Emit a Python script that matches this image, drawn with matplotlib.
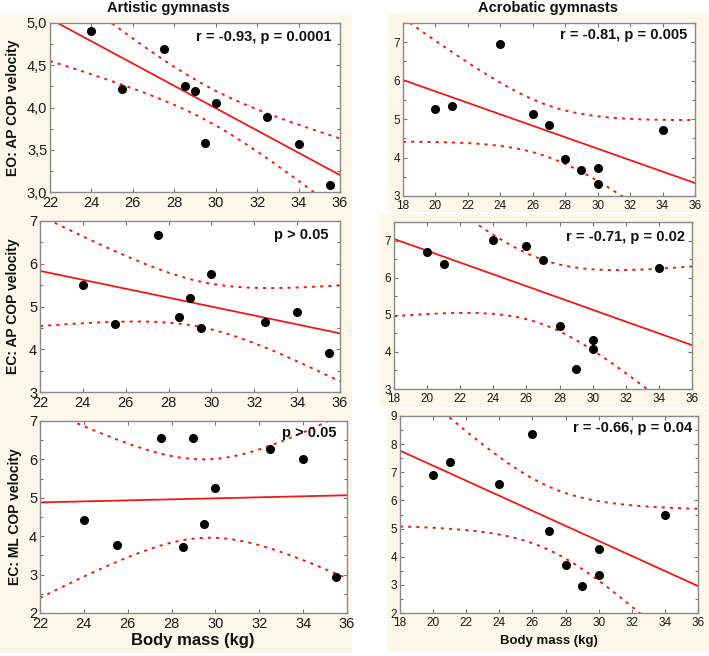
import numpy as np
import matplotlib
matplotlib.use("Agg")
import matplotlib.pyplot as plt
from matplotlib.patches import Rectangle
from matplotlib.ticker import MultipleLocator

# ---------------- data ----------------
art_mass = [24, 25.5, 27.5, 28.5, 29, 29.5, 30, 32.5, 34, 35.5]
art_eo_ap = [4.91, 4.22, 4.69, 4.26, 4.20, 3.58, 4.05, 3.89, 3.57, 3.08]
art_ec_ap = [5.51, 4.59, 6.68, 4.75, 5.20, 4.49, 5.75, 4.64, 4.88, 3.91]
art_ec_ml = [4.42, 3.78, 6.56, 3.72, 6.55, 4.31, 5.26, 6.27, 6.00, 2.94]

acro_mass = [20, 21, 24, 26, 27, 28, 29, 30, 30, 34]
acro_eo_ap = [5.27, 5.35, 6.95, 5.13, 4.84, 3.96, 3.68, 3.73, 3.31, 4.71]
acro_ec_ap = [6.69, 6.38, 7.01, 6.84, 6.47, 4.70, 3.54, 4.31, 4.07, 6.27]
acro_ec_ml = [6.92, 7.38, 6.57, 8.37, 4.90, 3.72, 2.95, 4.27, 3.36, 5.47]

col_titles = ["Artistic gymnasts", "Acrobatic gymnasts"]
row_labels = ["EO: AP COP velocity", "EC: AP COP velocity", "EC: ML COP velocity"]
stats_text = [["r = -0.93, p = 0.0001", "r = -0.81, p = 0.005"],
              ["p > 0.05", "r = -0.71, p = 0.02"],
              ["p > 0.05", "r = -0.66, p = 0.04"]]
xlabel = "Body mass (kg)"

T_CRIT = 2.306  # t(0.975, df=8)

# ---------------- layout (pixels) ----------------
W, H = 709, 656
fig = plt.figure(figsize=(W / 100, H / 100), dpi=100)
fig.patch.set_facecolor("white")
CREAM = "#fcf7e9"
RED = "#f01818"
FONT = "Liberation Sans"

def fx(px):
    return px / W

def fy(py):
    return 1 - py / H

# cream backgrounds
for (l, t, r, b) in [(0, 15, 352, 653), (388, 13, 709, 212), (380, 214, 709, 407), (387, 409, 709, 652)]:
    fig.add_artist(Rectangle((fx(l), fy(b)), fx(r - l), (b - t) / H,
                             transform=fig.transFigure, facecolor=CREAM,
                             edgecolor="none", zorder=-10))

boxes = [[(50, 23, 340, 192), (403, 23, 695, 196)],
         [(40, 221, 340, 392), (394, 222, 692, 389)],
         [(40, 421, 347, 613), (400, 416, 698, 613)]]

data = [[(art_mass, art_eo_ap), (acro_mass, acro_eo_ap)],
        [(art_mass, art_ec_ap), (acro_mass, acro_ec_ap)],
        [(art_mass, art_ec_ml), (acro_mass, acro_ec_ml)]]

ylims = [[(3.0, 5.0), (3, 7.5)], [(3, 7), (3, 7.5)], [(2, 7), (2, 9)]]
yticks = [[[3.0, 3.5, 4.0, 4.5, 5.0], [3, 4, 5, 6, 7]],
          [[3, 4, 5, 6, 7], [3, 4, 5, 6, 7]],
          [[2, 3, 4, 5, 6, 7], [2, 3, 4, 5, 6, 7, 8, 9]]]
xlims = [(22, 36), (18, 36)]

# stats text anchor (right edge px, center y px)
stat_pos = [[(332, 37), (687, 35)], [(328, 235), (685, 237)], [(337, 433), (692, 428)]]

for r in range(3):
    for c in range(2):
        l, t, rr, b = boxes[r][c]
        ax = fig.add_axes([fx(l), fy(b), fx(rr - l), (b - t) / H])
        ax.set_facecolor("white")
        x = np.array(data[r][c][0], dtype=float)
        y = np.array(data[r][c][1], dtype=float)
        n = len(x)
        slope, icpt = np.polyfit(x, y, 1)
        xs = np.linspace(xlims[c][0], xlims[c][1], 200)
        fit = icpt + slope * xs
        resid = y - (icpt + slope * x)
        s = np.sqrt(np.sum(resid ** 2) / (n - 2))
        sxx = np.sum((x - x.mean()) ** 2)
        half = T_CRIT * s * np.sqrt(1 / n + (xs - x.mean()) ** 2 / sxx)
        ax.plot(xs, fit, color=RED, lw=1.3, zorder=2)
        ax.plot(xs, fit + half, color=RED, lw=1.4, ls=(0, (1.6, 2.6)), zorder=2)
        ax.plot(xs, fit - half, color=RED, lw=1.4, ls=(0, (1.6, 2.6)), zorder=2)
        ax.plot(x, y, "o", color="black", ms=5.5, zorder=3, clip_on=False)

        ax.set_xlim(*xlims[c])
        ax.set_ylim(*ylims[r][c])
        ax.set_xticks(np.arange(xlims[c][0], xlims[c][1] + 0.1, 2))
        yt = yticks[r][c]
        ax.set_yticks(yt)
        ax.yaxis.set_minor_locator(MultipleLocator((yt[1] - yt[0]) / 2))
        if r == 0 and c == 0:
            ax.set_yticklabels([f"{v:.1f}".replace(".", ",") for v in yt])
        else:
            ax.set_yticklabels([f"{v:g}" for v in yt])
        fs = 10.5 if c == 0 else 8.5
        ax.tick_params(which="both", direction="in", width=0.8, color="#777777",
                       top=True, right=True)
        ax.tick_params(which="major", length=3, labelsize=fs, labelcolor="#1a1a1a", pad=2)
        ax.tick_params(which="minor", length=2)
        ax.tick_params(axis="x", pad=3)
        for lbl in ax.get_xticklabels() + ax.get_yticklabels():
            lbl.set_family(FONT)
        for sp in ax.spines.values():
            sp.set_color("#8a8a8a")
            sp.set_linewidth(1.0)

        # stats text
        px, py = stat_pos[r][c]
        ax.text((px - l) / (rr - l), 1 - (py - t) / (b - t), stats_text[r][c],
                transform=ax.transAxes, ha="right", va="center",
                fontsize=10.5, fontweight="bold",
                family=FONT, color="#111111", zorder=4)

        if c == 0:
            cy = fy((t + b) / 2)
            fig.text(fx(13 if r < 2 else 15), cy, row_labels[r], rotation=90,
                     ha="center", va="center", fontsize=10, fontweight="bold",
                     family=FONT, color="#111111")

# column titles
fig.text(fx(168), fy(8), col_titles[0], ha="center", va="center",
         fontsize=10.5, fontweight="bold", family=FONT, color="#111111")
fig.text(fx(548), fy(8), col_titles[1], ha="center", va="center",
         fontsize=10.5, fontweight="bold", family=FONT, color="#111111")

# x labels
fig.text(fx(193), fy(641), xlabel, ha="center", va="center",
         fontsize=12, fontweight="bold", family=FONT, color="#111111")
fig.text(fx(549), fy(641), xlabel, ha="center", va="center",
         fontsize=9.5, fontweight="bold", family=FONT, color="#111111")

fig.savefig("out.png", dpi=100, facecolor=fig.get_facecolor())
